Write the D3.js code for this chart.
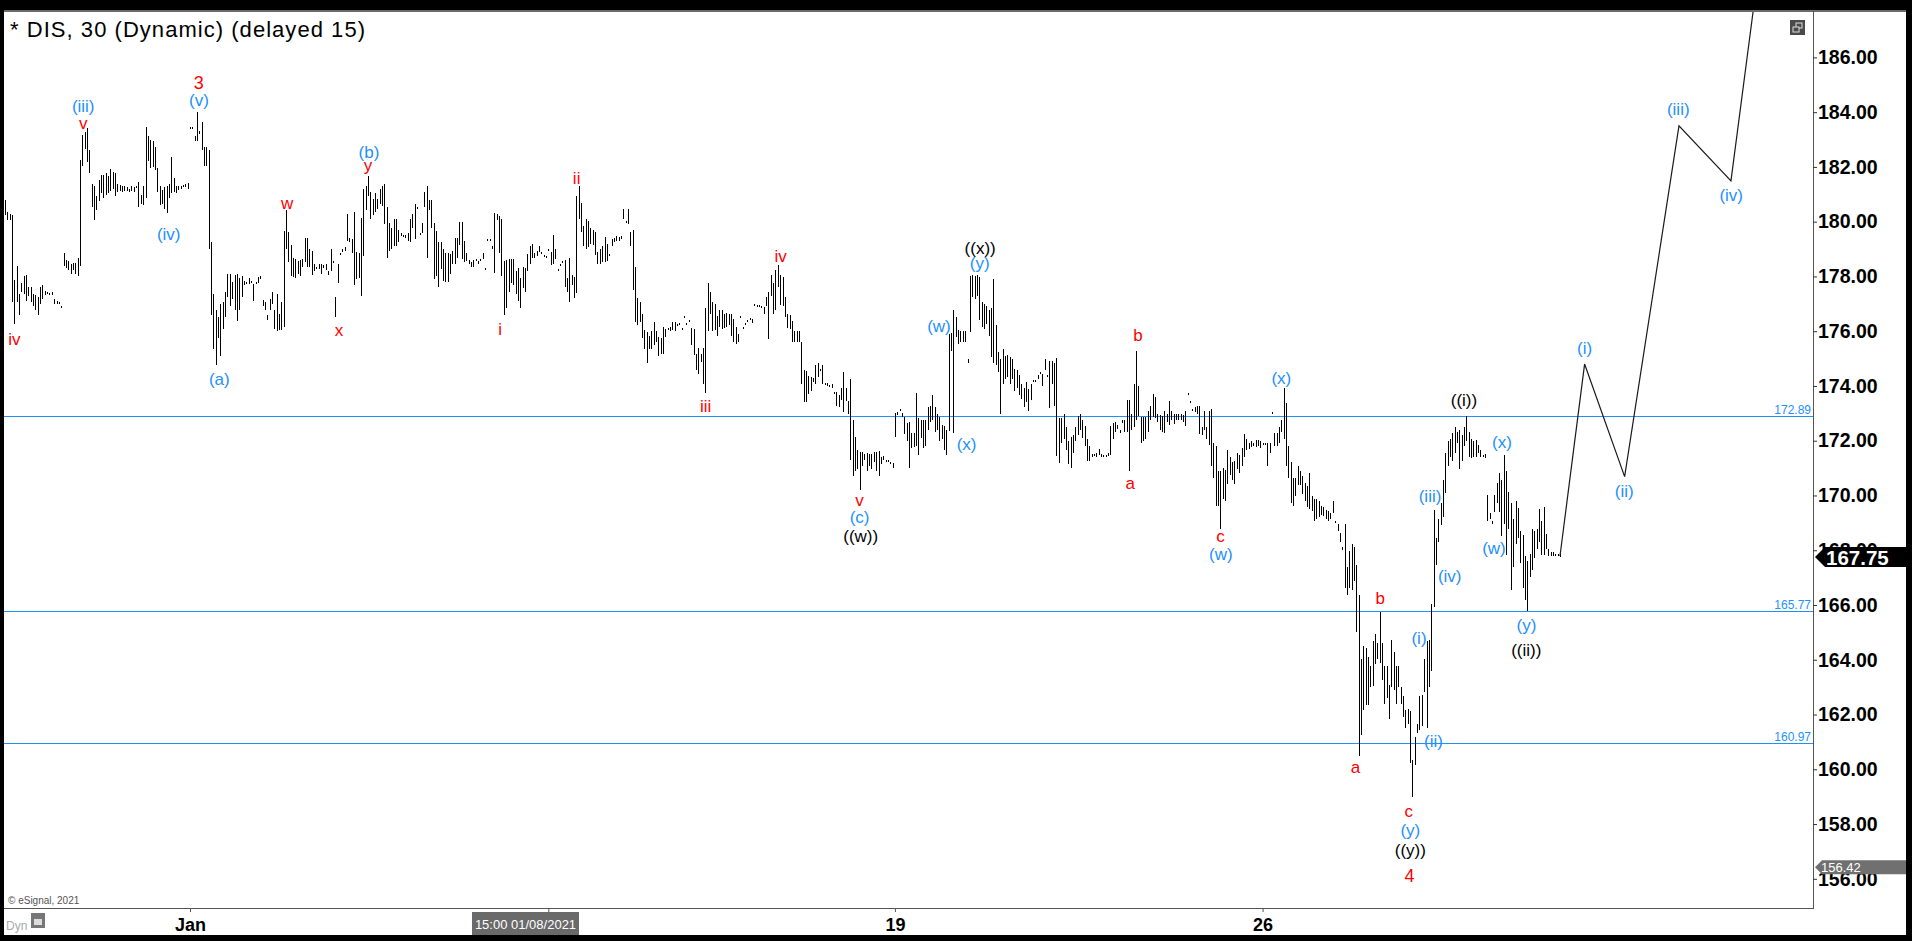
<!DOCTYPE html>
<html><head><meta charset="utf-8">
<script src="https://cdn.jsdelivr.net/npm/d3@7"></script>
<style>body{margin:0;background:#000;overflow:hidden}svg{display:block}text{font-family:"Liberation Sans",Arial,sans-serif}</style>
</head><body><svg id="c" width="1912" height="941"></svg>
<script>
// 30-minute bars: [high, low]
const hiLo = [
[180.8,180.25],[180.37,180.06],[180.28,180.06],[180.25,177.06],[177.88,176.26],[178.39,177.06],[177.36,176.59],[177.77,177.43],[178.02,177.35],[178.05,177.1],
[177.63,177.3],[177.6,177.06],[177.36,176.93],[177.31,176.76],[177.26,176.59],[177.63,177.01],[177.68,177.18],[177.46,177.31],[177.43,177.38],[177.4,177.35],
[177.43,177.31],[177.16,176.99],[177.09,176.99],[177.05,176.98],[176.93,176.86],[178.86,178.39],[178.6,178.3],[178.57,178.24],[178.47,178.1],[178.49,178.24],
[178.5,178.1],[178.69,178.03],[182.26,178.39],[183.18,182.04],[183.27,182.66],[183.43,182.18],[182.63,181.79],[181.37,180.53],[181.32,180.06],[180.92,180.42],
[181.54,180.75],[181.71,181.04],[181.71,180.87],[181.76,180.99],[181.66,181.04],[181.93,181.12],[181.82,181.2],[181.79,180.95],[181.37,181.09],[181.34,181.12],
[181.32,181.09],[181.32,181.12],[181.26,181.12],[181.2,181.09],[181.29,181.12],[181.26,181.09],[181.32,181.26],[181.46,180.53],[180.99,180.65],[181.29,180.62],
[183.47,180.87],[183.13,182.21],[183.0,181.96],[182.93,181.99],[182.71,181.88],[181.96,181.09],[181.29,180.62],[181.15,180.65],[181.26,180.48],[181.29,180.32],
[181.37,180.87],[182.38,181.04],[181.59,181.09],[181.32,181.04],[181.32,181.15],[181.29,181.2],[181.34,181.26],[181.37,181.26],[181.42,181.2],
[183.47,183.44],[183.45,183.42],[183.13,182.96],[184.0,182.93],[183.3,183.2],[183.64,182.63],[182.71,182.04],[182.71,182.04],[182.63,179.02],[179.27,176.59],
[177.35,175.34],[176.76,174.75],[176.51,175.75],[177.01,175.08],[177.06,176.09],[177.43,176.51],[178.1,177.26],[178.1,176.93],[177.8,177.18],[178.05,176.76],
[178.1,176.39],[177.93,176.76],[178.02,177.26],[177.85,177.68],[177.8,177.73],[177.93,177.73],[177.82,177.76],[177.73,177.1],[177.8,177.77],[177.97,177.77],
[178.02,177.9],[177.13,176.93],[177.06,176.79],[176.59,176.42],[177.18,176.76],[177.43,177.01],[176.76,176.09],[177.35,176.0],[176.63,176.06],[177.06,176.06],
[179.65,176.17],[180.42,179.02],[179.61,178.52],[179.14,178.02],[178.69,177.97],[178.64,177.93],[178.57,178.1],[178.6,178.02],[178.64,178.35],[179.41,178.52],
[179.41,178.35],[179.02,178.35],[178.94,178.07],[178.47,178.19],[178.35,178.27],[178.44,178.27],[178.47,178.1],[178.4,178.3],[178.44,178.24],[178.19,178.07],
[179.02,178.19],[178.57,178.51],[177.26,176.51],[178.47,177.77],[178.86,178.81],[179.02,178.9],[179.06,178.94],[180.28,179.31],[179.41,179.27],[179.36,178.86],
[180.37,177.68],[178.91,177.9],[178.86,177.93],[180.15,177.3],[181.2,178.74],[181.32,180.42],[181.66,180.92],[181.09,180.08],[180.82,180.25],[181.04,180.37],
[180.82,180.48],[181.2,180.65],[181.32,180.58],[181.37,179.91],[180.53,178.69],[179.95,178.94],[179.78,179.02],[180.11,179.11],[180.08,179.11],[179.7,179.27],
[179.58,179.48],[179.53,179.44],[179.5,179.42],[179.58,179.31],[180.08,179.27],[180.28,179.78],[180.65,179.36],[180.53,180.48],[179.58,179.53],[179.95,179.58],
[181.09,180.53],[181.29,178.69],[180.79,180.42],[180.79,179.78],[179.95,177.9],[179.65,178.02],[179.27,177.6],[179.27,178.27],[179.02,177.85],[178.86,177.8],
[178.86,177.8],[178.81,178.1],[178.94,178.47],[179.41,178.47],[179.41,178.69],[179.98,179.14],[179.98,178.64],[179.31,178.52],[178.86,178.57],[178.6,178.47],
[178.52,178.35],[178.6,178.35],[178.64,178.57],[178.55,178.45],[178.64,178.57],[178.86,178.64],[178.31,178.27],[179.36,179.31],[179.36,179.31],[179.11,179.02],
[180.32,178.13],[180.28,180.06],[180.2,178.86],[180.08,178.02],[178.57,176.59],[178.61,176.84],[178.64,177.43],[178.64,177.77],[178.64,177.68],[178.19,177.35],
[178.3,177.1],[177.93,176.84],[178.35,177.57],[178.3,177.43],[178.81,178.19],[179.11,178.47],[179.19,178.69],[178.86,178.69],[178.94,178.74],[179.11,178.9],
[178.9,178.86],[178.8,178.75],[178.74,178.69],[179.02,178.98],[178.91,178.41],[179.53,178.47],[179.02,178.64],[178.27,178.23],[178.44,178.4],[178.57,178.53],
[178.6,177.63],[177.93,177.43],[178.69,177.06],[178.07,177.68],[177.97,177.23],[180.95,177.4],[181.29,180.08],[180.7,179.61],[179.86,179.11],[180.08,179.02],
[180.03,179.07],[179.78,179.19],[179.7,179.14],[179.61,178.77],[178.91,178.44],[179.02,178.44],[179.11,178.52],[179.44,178.52],[179.19,178.57],[178.81,178.77],
[179.36,179.11],[179.41,179.24],[179.48,179.31],[179.45,179.3],[179.48,179.36],[180.48,180.11],[180.03,179.95],[180.48,179.91],[179.61,179.11],[179.7,177.52],
[178.35,176.34],[177.23,176.22],[177.06,176.34],[176.64,175.75],[176.06,175.34],[175.96,174.83],[175.84,175.34],[176.01,175.34],[176.34,175.5],[176.01,175.59],
[175.79,175.08],[175.75,175.17],[176.17,175.17],[176.09,175.79],[176.12,176.06],[176.17,176.0],[176.34,176.06],[176.34,176.0],[176.26,176.19],[176.3,176.25],
[176.12,176.09],[176.54,176.49],[176.29,176.22],[176.42,176.39],[176.12,175.5],[176.09,175.12],[175.17,174.58],[175.39,174.45],[175.17,174.88],[175.39,174.08],
[176.84,173.74],
[177.77,176.0],[177.43,176.63],[177.06,176.0],[177.01,176.06],[176.56,175.84],[176.79,176.17],[176.79,176.09],[176.63,176.12],[176.68,176.17],[176.63,176.22],
[176.63,175.84],[176.46,175.62],[176.17,175.55],[175.89,175.59],[176.54,176.49],[176.17,176.12],[176.29,176.22],[176.42,176.34],[176.5,176.45],[176.46,176.29],
[177.01,176.93],[176.96,176.93],[176.95,176.9],[176.93,176.89],[176.9,176.63],[177.26,176.93],[177.43,175.72],[178.07,177.3],[177.77,176.63],[178.22,176.79],
[178.41,177.63],[178.07,176.96],[177.97,176.93],[177.26,176.51],[176.63,176.12],[176.59,176.09],[176.39,175.59],[176.01,175.59],[176.01,175.59],[176.01,175.62],
[175.62,174.08],[174.58,173.41],[174.55,173.41],[174.38,173.71],[174.33,173.83],[174.28,174.16],[174.75,174.08],[174.83,174.33],[174.63,174.58],[174.75,174.08],
[174.11,174.04],[174.1,174.0],[174.04,173.99],[174.08,173.94],[173.78,173.71],[173.78,173.27],[173.66,173.24],[173.91,173.49],[174.5,173.04],[173.91,173.44],
[173.44,172.99],[174.24,171.31],[172.74,170.72],[172.15,170.89],[171.65,170.97],[171.6,170.19],
[171.6,171.06],[171.53,171.31],[171.56,170.89],[171.51,171.06],[171.51,170.97],[171.6,171.23],[171.6,170.89],[171.61,170.72],[171.39,171.14],[171.43,171.31],
[171.31,171.26],[171.31,171.26],[171.23,171.14],[171.19,171.02],[173.02,172.15],[173.04,172.94],[173.15,173.1],[173.02,172.87],[172.87,172.23],[172.65,171.98],
[172.7,171.02],[172.27,171.73],[172.27,171.76],[173.74,171.81],[172.82,171.48],[172.77,172.1],[172.77,171.73],[172.77,171.81],[173.24,172.4],[173.27,172.7],
[173.66,172.74],[173.24,172.32],[172.99,172.4],[172.87,171.98],[172.57,172.06],[172.53,171.65],[172.4,171.48],[175.89,172.37],[175.92,175.29],[176.79,172.27],
[176.51,175.79],[176.06,175.55],[176.01,175.59],[176.01,175.59],[176.01,175.59],[175.0,174.83],[178.02,175.96],[178.07,177.26],[178.02,177.18],[178.07,177.3],
[177.97,176.42],[177.06,176.17],[177.01,176.09],[176.93,176.26],[176.79,175.84],[176.84,175.05],[177.9,174.83],[176.22,174.78],[175.25,174.5],[175.0,172.99],
[175.34,174.08],[175.08,174.24],[175.12,174.33],[175.05,174.08],[175.0,174.24],[174.61,173.83],[174.58,173.91],[174.41,173.66],[174.08,173.54],[173.91,173.24],
[174.16,173.41],[173.88,173.1],[174.08,173.49],[174.21,174.16],[174.21,174.14],[174.41,174.24],[174.5,174.45],[174.45,173.99],[175.0,174.58],[174.41,174.33],
[174.91,173.2],[174.91,174.08],[174.83,173.27],[175.03,171.43],[172.82,171.19],[172.82,171.93],[172.99,172.06],[172.49,171.65],[171.98,171.14],[172.15,171.02],
[172.2,171.56],[172.49,171.98],[172.9,172.2],[172.99,172.4],[172.77,172.1],[172.53,171.81],[172.06,171.26],[171.81,171.26],[171.53,171.39],[171.53,171.43],
[171.56,171.39],[171.7,171.48],[171.5,171.42],[171.48,171.43],[171.48,171.39],[171.56,171.43],[172.53,171.48],[172.65,172.06],[172.7,172.32],[172.57,172.44],
[172.4,172.27],[172.74,172.66],[172.74,172.32],[173.49,172.32],
[173.49,170.89],[172.99,172.4],[174.08,172.49],[175.28,172.74],[174.0,172.9],[172.87,171.9],[172.87,171.98],[172.87,172.06],[173.07,172.32],[173.27,172.74],
[173.71,172.87],[173.58,172.82],[172.99,172.7],[172.94,172.4],[172.9,172.32],[173.1,172.27],[172.99,172.7],[173.44,172.57],[173.1,172.77],[172.99,172.6],
[172.99,172.74],[172.99,172.74],[172.99,172.77],[172.94,172.7],[173.07,172.53],[173.74,173.71],[173.44,173.37],[173.15,173.07],[173.24,173.04],[173.27,172.99],
[173.27,172.23],[172.49,172.2],[173.07,172.4],[172.49,172.06],[173.07,171.86],[173.15,171.09],[171.9,170.64],[171.81,169.63],[170.89,169.63],[170.89,168.79],
[171.02,169.88],[170.92,169.8],[171.65,170.42],[171.39,170.76],[171.23,170.56],[171.26,170.42],[171.56,170.97],[171.48,170.81],[171.73,171.06],[172.23,171.39],
[172.06,171.65],[171.9,171.7],[171.98,171.76],[171.93,171.81],[172.03,171.76],[172.03,171.81],[171.98,171.73],[171.93,171.86],[171.93,171.86],[171.9,171.06],
[171.93,171.56],[173.04,172.99],[172.27,171.81],[172.27,171.81],[172.49,171.9],[172.77,172.32],[173.91,172.06],[173.37,171.06],[171.81,170.64],[171.23,169.72],
[170.64,169.63],[170.64,169.97],[171.06,170.39],[170.89,170.39],
[170.72,170.06],[170.47,169.8],[170.35,169.58],[170.81,169.52],[169.97,169.42],[169.88,169.05],[169.88,169.13],[169.8,169.21],[169.63,169.3],[169.58,169.24],
[169.47,169.13],[169.42,169.05],[169.35,169.13],[169.8,169.35],[169.05,169.02],[168.96,168.71],[168.63,168.29],[168.12,168.0],[168.96,166.61],[167.37,166.36],
[167.96,166.61],[168.21,166.53],[168.12,166.87],[167.45,165.02],[166.36,160.49],[164.02,161.25],[164.52,162.17],[164.44,162.34],[164.1,162.34],[163.76,163.01],
[164.69,163.04],[164.94,163.85],[164.6,164.02],[165.73,163.88],[164.6,163.26],[163.76,162.37],[163.76,162.59],[163.09,161.84],[164.72,163.01],[164.27,162.88],
[163.76,162.37],[163.76,163.01],[163.01,162.37],[162.67,161.92],[162.17,161.5],[162.2,161.67],[162.14,160.24],[160.33,158.98],[161.17,160.16],[161.67,161.33],
[162.67,161.42],[162.7,161.58],[164.02,162.84],[164.69,161.5],[164.72,163.01],[166.03,163.6],[169.47,165.94],[168.46,167.45],[169.13,168.29],[169.72,168.91],
[170.56,169.21],[171.56,170.09],[171.98,171.06],[172.06,171.39],[172.27,171.26],[172.49,171.56],[172.32,171.9],[172.4,170.97],[172.2,171.26],[172.49,171.81],
[172.91,171.98],[172.32,171.39],[172.06,171.36],[171.98,171.39],[172.03,171.39],[171.86,171.56],[171.65,171.39],[171.48,171.39],[171.53,171.36],[170.02,169.05],
[169.35,169.15],[169.05,168.96],[170.02,169.38],[170.47,169.72],[170.81,169.38],[170.56,168.51],[171.48,168.96],[170.89,167.84],[170.14,168.79],[169.72,166.53],
[169.13,167.37],[169.8,168.21],[169.55,168.46],[168.71,167.54],[168.54,166.61],[167.79,166.19],[167.62,165.78],[167.87,167.03],[168.79,167.28],[168.71,167.7],
[168.79,168.04],[169.52,168.29],[169.05,167.84],[169.58,167.84],[168.58,168.04],[168.04,167.79],[167.92,167.79],[167.92,167.79],[167.87,167.79],[167.87,167.79],
[167.85,167.75]
];
const lastPrice = 167.75;
const lowTag = 156.42;
const priceTicks = [156,158,160,162,164,166,168,170,172,174,176,178,180,182,184,186];
const levels = [172.89, 165.77, 160.97];
const dateTickIdx = [79, 232, 380, 537];
const dateTickText = ["Jan", "", "19", "26"];
const labelText  = ["iv","(iii)","v","(iv)","3","(v)","(a)","w","x","(b)","y","i","ii","iii","iv","v","(c)","((w))","(w)","(x)","((x))","(y)","b","a","c","(w)","(x)","((i))","(x)","(iii)","(w)","(iv)","b","(i)","(y)","((ii))","(ii)","a","c","(y)","((y))","4","(i)","(ii)","(iii)","(iv)"];
const labelColor = ["r","b","r","b","r","b","b","r","r","b","r","r","r","r","r","r","b","k","b","b","k","b","r","r","r","b","b","k","b","b","b","b","r","b","b","k","b","r","r","b","k","r","b","b","b","b"];
const labelIdx   = [4.0,33.4,33.4,69.9,82.7,82.8,91.5,120.5,142.6,155.4,155.0,211.4,244.1,299.2,331.2,364.9,364.9,365.4,398.8,410.6,416.4,416.2,483.8,480.5,519,519.2,545.0,623.0,639.2,608.5,635.8,616.9,587.2,603.8,649.7,649.6,610.0,576.7,599.4,600.1,600.1,599.7,674.5,691.4,714.5,737.1];
const labelPrice = [175.70,184.19,183.60,179.53,185.07,184.44,174.24,180.67,176.04,182.54,182.04,176.08,181.59,173.24,178.74,169.80,169.21,168.49,176.18,171.86,179.02,178.47,175.83,170.44,168.49,167.84,174.28,173.46,171.93,169.97,168.07,167.03,166.23,164.77,165.24,164.35,161.03,160.08,158.47,157.76,157.04,156.10,175.37,170.15,184.10,180.94];
const projIdx   = [664, 674.5, 691.6, 714.8, 737.0, 749.4];
const projPrice = [167.79, 174.80, 170.69, 183.50, 181.49, 189.6];

const colorMap = {r:"#ff0000", b:"#1e90ff", k:"#000000"};
const svg = d3.select("#c");
const W = 1912, H = 941;
const P = {l:4, r:1813, t:11, b:908};
const x = d3.scaleLinear().domain([0, hiLo.length - 1]).range([5, 1560]);
const y = d3.scaleLinear().domain([156, 186]).range([878.8, 57.4]);
const FONT = "'Liberation Sans', Arial, sans-serif";

svg.append("rect").attr("width", W).attr("height", H).attr("fill", "#000");
svg.append("rect").attr("x", 4).attr("y", 11).attr("width", 1902).attr("height", 924).attr("fill", "#fff");
svg.append("line").attr("x1", 4).attr("x2", 1906).attr("y1", 11).attr("y2", 11).attr("stroke", "#6a6a6a").attr("stroke-width", 2);

svg.append("defs").append("clipPath").attr("id", "pc")
  .append("rect").attr("x", P.l).attr("y", P.t + 1).attr("width", P.r - P.l).attr("height", P.b - P.t - 1);
const g = svg.append("g").attr("clip-path", "url(#pc)");

// horizontal levels
g.selectAll("line.lvl").data(levels).join("line").attr("class", "lvl")
  .attr("x1", P.l).attr("x2", P.r)
  .attr("y1", d => Math.round(y(d)) + 0.5).attr("y2", d => Math.round(y(d)) + 0.5)
  .attr("stroke", "#1e90ff").attr("stroke-width", 1);

// bars (crisp 1px high-low lines)
g.selectAll("rect.bar").data(hiLo).join("rect").attr("class", "bar")
  .attr("x", (d, i) => Math.round(x(i))).attr("width", 1)
  .attr("y", d => Math.round(y(d[0])))
  .attr("height", d => Math.max(2, Math.round(y(d[1])) - Math.round(y(d[0]))))
  .attr("shape-rendering", "crispEdges")
  .attr("fill", "#000");

// projection path
g.append("path")
  .attr("d", d3.line()(projIdx.map((d, i) => [x(d), y(projPrice[i])])))
  .attr("fill", "none").attr("stroke", "#1a1a1a").attr("stroke-width", 1.2);

// level labels
svg.selectAll("text.lvl").data(levels).join("text").attr("class", "lvl")
  .attr("x", P.r - 2).attr("y", d => Math.round(y(d)) - 2)
  .attr("text-anchor", "end").attr("font-size", 12).attr("fill", "#1e90ff")
  .attr("font-family", FONT).text(d => d3.format(".2f")(d));

// wave labels
g.selectAll("text.wave").data(labelText).join("text").attr("class", "wave")
  .attr("x", (d, i) => x(labelIdx[i])).attr("y", (d, i) => y(labelPrice[i]))
  .attr("text-anchor", "middle").attr("dominant-baseline", "central")
  .attr("font-size", (d) => (d === "3" || d === "4") ? 18 : 17)
  .attr("font-family", FONT)
  .attr("fill", (d, i) => colorMap[labelColor[i]]).text(d => d);

// right axis
svg.append("line").attr("x1", P.r + 0.5).attr("x2", P.r + 0.5).attr("y1", P.t).attr("y2", P.b)
  .attr("stroke", "#555").attr("stroke-width", 1);
const ya = svg.append("g").attr("transform", `translate(${P.r},0)`)
  .call(d3.axisRight(y).tickValues(priceTicks).tickSize(4).tickPadding(1).tickFormat(d3.format(".2f")));
ya.select(".domain").remove();
ya.attr("font-family", FONT).attr("font-size", 19.5).attr("font-weight", "bold");
ya.selectAll("line").attr("stroke", "#333");
ya.selectAll("text").attr("fill", "#000");

// bottom axis
svg.append("line").attr("x1", P.l).attr("x2", P.r + 1).attr("y1", P.b + 0.5).attr("y2", P.b + 0.5)
  .attr("stroke", "#555").attr("stroke-width", 1);
const xa = svg.append("g").attr("transform", `translate(0,${P.b})`)
  .call(d3.axisBottom(x).tickValues(dateTickIdx).tickSize(4).tickPadding(6).tickFormat((d, i) => dateTickText[i]));
xa.select(".domain").remove();
xa.attr("font-family", FONT).attr("font-size", 18).attr("font-weight", "bold");
xa.selectAll("line").attr("stroke", "#555");
xa.selectAll("text").attr("fill", "#000");

// price tags
const yl = y(lastPrice);
svg.append("polygon")
  .attr("points", [[1815, yl], [1825, yl - 10], [1906, yl - 10], [1906, yl + 10], [1825, yl + 10]].map(p => p.join(",")).join(" "))
  .attr("fill", "#000");
svg.append("text").attr("x", 1826).attr("y", yl + 7.5).attr("font-family", FONT).attr("font-size", 20.5)
  .attr("font-weight", "bold").attr("fill", "#fff").text(d3.format(".2f")(lastPrice));
const yt = y(lowTag);
svg.append("polygon")
  .attr("points", [[1815, yt], [1822, yt - 7], [1906, yt - 7], [1906, yt + 7], [1822, yt + 7]].map(p => p.join(",")).join(" "))
  .attr("fill", "#707070");
svg.append("text").attr("x", 1821).attr("y", yt + 5).attr("font-family", FONT).attr("font-size", 13)
  .attr("fill", "#fff").text(d3.format(".2f")(lowTag));

// title
svg.append("text").attr("x", 10).attr("y", 37).attr("font-family", FONT).attr("font-size", 22)
  .attr("textLength", 355).attr("lengthAdjust", "spacing")
  .attr("fill", "#000").text("* DIS, 30 (Dynamic) (delayed 15)");

// top-right window icon
svg.append("rect").attr("x", 1790).attr("y", 20).attr("width", 15).attr("height", 15).attr("fill", "#4a4a4a");
svg.append("rect").attr("x", 1796).attr("y", 23).attr("width", 6).attr("height", 5).attr("fill", "none").attr("stroke", "#ddd").attr("stroke-width", 1);
svg.append("rect").attr("x", 1793).attr("y", 27).attr("width", 6).attr("height", 5).attr("fill", "#4a4a4a").attr("stroke", "#ddd").attr("stroke-width", 1);

// bottom-left texts
svg.append("text").attr("x", 8).attr("y", 904).attr("font-family", FONT).attr("font-size", 10)
  .attr("fill", "#555").text("\u00A9 eSignal, 2021");
svg.append("text").attr("x", 6).attr("y", 930).attr("font-family", FONT).attr("font-size", 12)
  .attr("fill", "#aaa").text("Dyn");
svg.append("rect").attr("x", 31).attr("y", 913).attr("width", 14).attr("height", 15).attr("fill", "#777");
svg.append("rect").attr("x", 34).attr("y", 919).attr("width", 8).attr("height", 6).attr("fill", "#ddd");

// crosshair date box
svg.append("rect").attr("x", 472).attr("y", 912).attr("width", 107).attr("height", 23).attr("fill", "#6a6a6a");
svg.append("text").attr("x", 525.5).attr("y", 929).attr("text-anchor", "middle").attr("font-family", FONT)
  .attr("font-size", 13).attr("fill", "#fff").text("15:00 01/08/2021");
</script></body></html>
